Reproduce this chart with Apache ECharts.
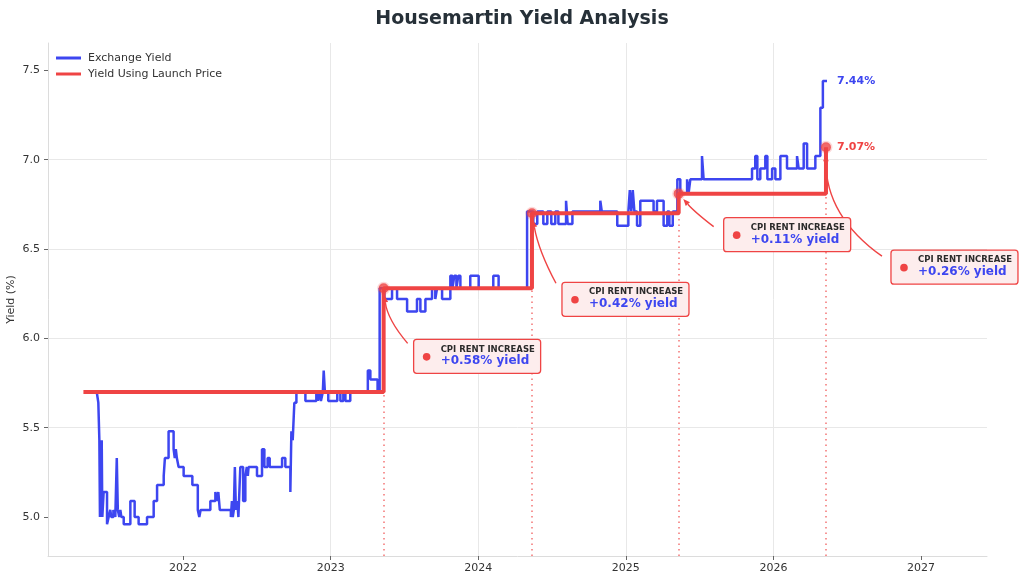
<!DOCTYPE html>
<html>
<head>
<meta charset="utf-8">
<script src="https://cdn.jsdelivr.net/npm/echarts@6/dist/echarts.min.js"></script>
<style>html,body{margin:0;padding:0;background:#fff}#c{width:1024px;height:582px}</style>
</head>
<body>
<div id="c"></div>
<script>
// ---------- DATA ----------
const seriesNames = ['Exchange Yield', 'Yield Using Launch Price'];
const exchangeDates = [
  2021.417, 2021.426, 2021.433, 2021.437, 2021.441, 2021.445, 2021.449, 2021.453, 2021.462, 2021.485,
  2021.496, 2021.507, 2021.514, 2021.528, 2021.541, 2021.551, 2021.558, 2021.568, 2021.575, 2021.582,
  2021.598, 2021.643, 2021.672, 2021.699, 2021.756, 2021.801, 2021.824, 2021.869, 2021.877, 2021.902,
  2021.936, 2021.944, 2021.951, 2021.958, 2021.970, 2022.004, 2022.063, 2022.100, 2022.110, 2022.119,
  2022.185, 2022.219, 2022.229, 2022.239, 2022.249, 2022.324, 2022.331, 2022.337, 2022.344, 2022.351,
  2022.358, 2022.368, 2022.375, 2022.388, 2022.407, 2022.422, 2022.432, 2022.439, 2022.444, 2022.501,
  2022.535, 2022.551, 2022.573, 2022.587, 2022.671, 2022.693, 2022.727, 2022.734, 2022.743, 2022.754,
  2022.768, 2022.829, 2022.903, 2022.913, 2022.923, 2022.934, 2022.947, 2022.953, 2022.961, 2022.984,
  2023.045, 2023.066, 2023.086, 2023.100, 2023.133, 2023.252, 2023.269, 2023.318, 2023.332, 2023.364,
  2023.416, 2023.450, 2023.518, 2023.585, 2023.608, 2023.642, 2023.687, 2023.709, 2023.721, 2023.755,
  2023.811, 2023.825, 2023.838, 2023.852, 2023.865, 2023.879, 2023.946, 2024.003, 2024.102, 2024.138,
  2024.331, 2024.373, 2024.400, 2024.441, 2024.468, 2024.495, 2024.522, 2024.543, 2024.595, 2024.606,
  2024.638, 2024.827, 2024.837, 2024.942, 2025.017, 2025.027, 2025.037, 2025.047, 2025.058, 2025.076,
  2025.098, 2025.188, 2025.211, 2025.256, 2025.281, 2025.295, 2025.318, 2025.349, 2025.369, 2025.415,
  2025.425, 2025.437, 2025.516, 2025.527, 2025.855, 2025.877, 2025.891, 2025.911, 2025.945, 2025.959,
  2025.991, 2026.013, 2026.047, 2026.092, 2026.160, 2026.171, 2026.205, 2026.228, 2026.284, 2026.318,
  2026.335, 2026.363
];
const exchangeYield = [
  5.69, 5.64, 5.43, 5.00, 5.38, 5.00, 5.43, 5.00, 5.14, 4.96,
  5.00, 5.04, 5.00, 5.04, 5.00, 5.33, 5.04, 5.00, 5.04, 5.00,
  4.96, 5.09, 5.00, 4.96, 5.00, 5.09, 5.18, 5.23, 5.33, 5.48,
  5.38, 5.33, 5.38, 5.33, 5.28, 5.23, 5.18, 5.04, 5.00, 5.04,
  5.09, 5.14, 5.09, 5.14, 5.04, 5.00, 5.09, 5.00, 5.04, 5.28,
  5.04, 5.09, 5.00, 5.28, 5.09, 5.23, 5.28, 5.23, 5.28, 5.23,
  5.38, 5.28, 5.33, 5.28, 5.33, 5.28, 5.14, 5.48, 5.43, 5.64,
  5.70, 5.65, 5.70, 5.65, 5.70, 5.65, 5.70, 5.82, 5.70, 5.65,
  5.70, 5.65, 5.70, 5.65, 5.70, 5.82, 5.77, 5.70, 6.28, 6.22,
  6.28, 6.22, 6.15, 6.22, 6.15, 6.22, 6.28, 6.22, 6.28, 6.22,
  6.35, 6.28, 6.35, 6.28, 6.35, 6.28, 6.35, 6.28, 6.35, 6.28,
  6.71, 6.64, 6.71, 6.64, 6.71, 6.64, 6.71, 6.64, 6.77, 6.64,
  6.71, 6.77, 6.71, 6.63, 6.71, 6.83, 6.71, 6.83, 6.71, 6.63,
  6.77, 6.71, 6.77, 6.63, 6.71, 6.63, 6.71, 6.89, 6.81, 6.89,
  6.81, 6.89, 7.02, 6.89, 6.95, 7.02, 6.89, 6.95, 7.02, 6.89,
  6.95, 6.89, 7.02, 6.95, 7.02, 6.95, 7.09, 6.95, 7.02, 7.29,
  7.44, 7.44
];
const launchDates = [2021.325, 2023.359, 2024.364, 2025.358, 2026.356];
const launchYield = [5.70, 6.28, 6.70, 6.81, 7.07];
const xTickLabels = [2022, 2023, 2024, 2025, 2026, 2027];
const yTickLabels = [5.0, 5.5, 6.0, 6.5, 7.0, 7.5];
const annotationTitle = 'CPI RENT INCREASE';

// ---------- LAYOUT / STYLE ----------
const X_MIN = 2021.085, X_MAX = 2027.447, Y_MIN = 4.782, Y_MAX = 7.653;
const BLUE = '#3d46f0', RED = '#ef4444', FONT = '"DejaVu Sans", sans-serif';
const BOX_W = 127, BOX_H = 34;
const boxLayout = [
  {dx: 30, dy: 51,  sx: -6,  sy: 4, k: 0.15},
  {dx: 30, dy: 69,  sx: -6,  sy: 1, k: 0.08},
  {dx: 45, dy: 24,  sx: -10, sy: 9, k: 0.05},
  {dx: 65, dy: 103, sx: -9,  sy: 6, k: 0.26}
];

const exData = exchangeDates.map((d, i) => [d, exchangeYield[i]]);
const lpData = launchDates.map((d, i) => [d, launchYield[i]]);
const jumps = lpData.slice(1);

const chart = echarts.init(document.getElementById('c'), null, {renderer: 'canvas'});

const axisText = {color: '#333', fontSize: 11, fontFamily: FONT};

chart.setOption({
  animation: false,
  backgroundColor: '#ffffff',
  textStyle: {fontFamily: FONT},
  title: {
    text: 'Housemartin Yield Analysis',
    left: 517, top: 5, textAlign: 'center',
    textStyle: {fontSize: 19, fontWeight: 'bold', color: '#263038', fontFamily: FONT}
  },
  legend: {
    orient: 'vertical', left: 56, top: 51, padding: 0,
    itemWidth: 25, itemHeight: 3, itemGap: 2, icon: 'rect',
    selectedMode: false,
    data: seriesNames,
    textStyle: {fontSize: 11, color: '#333', fontFamily: FONT, lineHeight: 14, padding: [0, 0, 0, 2]}
  },
  grid: {left: 48, right: 37, top: 43, bottom: 26, containLabel: false, outerBoundsMode: 'none'},
  xAxis: {
    type: 'value', min: X_MIN, max: X_MAX,
    axisLine: {show: true, lineStyle: {color: '#dcdcdc', width: 1}},
    axisTick: {show: true, length: 4, customValues: xTickLabels, lineStyle: {color: '#666'}},
    axisLabel: Object.assign({customValues: xTickLabels, margin: 7, formatter: v => String(Math.round(v))}, axisText),
    splitLine: {show: true, showMinLine: false, showMaxLine: false, lineStyle: {color: '#e8e8e8', width: 1}}
  },
  yAxis: {
    type: 'value', min: Y_MIN, max: Y_MAX,
    name: 'Yield (%)', nameLocation: 'middle', nameGap: 31, nameMoveOverlap: false,
    nameTextStyle: {fontSize: 11, color: '#333', fontFamily: FONT},
    axisLine: {show: true, lineStyle: {color: '#dcdcdc', width: 1}},
    axisTick: {show: true, length: 4, customValues: yTickLabels, lineStyle: {color: '#666'}},
    axisLabel: Object.assign({customValues: yTickLabels, margin: 8, formatter: v => v.toFixed(1)}, axisText),
    splitLine: {show: true, showMinLine: false, showMaxLine: false, lineStyle: {color: '#e8e8e8', width: 1}}
  },
  series: [
    {
      name: seriesNames[0], type: 'line', step: 'end', data: exData,
      showSymbol: false, symbol: 'none', z: 2,
      lineStyle: {color: BLUE, width: 2.5},
      itemStyle: {color: BLUE},
      endLabel: {show: true, distance: 10, formatter: p => p.value[1].toFixed(2) + '%',
        color: BLUE, fontWeight: 'bold', fontSize: 11, fontFamily: FONT}
    },
    {
      name: seriesNames[1], type: 'line', step: 'end', data: lpData,
      showSymbol: false, symbol: 'none', z: 3,
      lineStyle: {color: RED, width: 4},
      itemStyle: {color: RED},
      endLabel: {show: true, distance: 11, formatter: p => p.value[1].toFixed(2) + '%',
        color: RED, fontWeight: 'bold', fontSize: 11, fontFamily: FONT},
      markLine: {
        silent: true, symbol: 'none', z: 1,
        label: {show: false},
        lineStyle: {color: RED, width: 1.5, type: [1.5, 4], opacity: 0.75},
        data: jumps.map(p => [{coord: [p[0], Y_MIN]}, {coord: [p[0], p[1]]}])
      }
    },
    {
      name: 'jumps', type: 'scatter', data: jumps, z: 5,
      symbolSize: 10,
      itemStyle: {color: RED, borderColor: 'rgba(239,68,68,0.25)', borderWidth: 3},
      silent: true
    }
  ]
});

function buildAnnotations() {
  const g = [];
  jumps.forEach((pt, i) => {
    const P = chart.convertToPixel({xAxisIndex: 0, yAxisIndex: 0}, pt);
    const L = boxLayout[i];
    const bx = P[0] + L.dx, by = P[1] + L.dy;
    const S = [bx + L.sx, by + L.sy];
    const mx = (S[0] + P[0]) / 2, my = (S[1] + P[1]) / 2;
    const ddx = P[0] - S[0], ddy = P[1] - S[1];
    const Q = [mx + L.k * ddy, my - L.k * ddx];
    let vx = Q[0] - P[0], vy = Q[1] - P[1];
    const vl = Math.hypot(vx, vy); vx /= vl; vy /= vl;
    const T = [P[0] + 7 * vx, P[1] + 7 * vy];
    const B = [T[0] + 7 * vx, T[1] + 7 * vy];
    const nx = -vy, ny = vx;
    g.push({type: 'bezierCurve', z: 50, silent: true,
      shape: {x1: S[0], y1: S[1], x2: B[0], y2: B[1], cpx1: Q[0], cpy1: Q[1]},
      style: {stroke: RED, lineWidth: 1.4, fill: null}});
    g.push({type: 'polygon', z: 50, silent: true,
      shape: {points: [T, [B[0] + 2.8 * nx, B[1] + 2.8 * ny], [B[0] - 2.8 * nx, B[1] - 2.8 * ny]]},
      style: {fill: RED}});
    g.push({type: 'rect', z: 60, silent: true,
      shape: {x: bx, y: by, width: BOX_W, height: BOX_H, r: 3},
      style: {fill: '#fdeded', stroke: RED, lineWidth: 1.3}});
    g.push({type: 'circle', z: 61, silent: true,
      shape: {cx: bx + 13, cy: by + 17.5, r: 3.8}, style: {fill: RED}});
    const inc = (launchYield[i + 1] - launchYield[i]).toFixed(2);
    g.push({type: 'text', z: 61, silent: true, x: bx + 27, y: by + 10,
      style: {text: annotationTitle, fill: '#2b2b2b', font: 'bold 8.5px "DejaVu Sans"', align: 'left', verticalAlign: 'middle'}});
    g.push({type: 'text', z: 61, silent: true, x: bx + 27, y: by + 22,
      style: {text: '+' + inc + '% yield', fill: BLUE, font: 'bold 12px "DejaVu Sans"', align: 'left', verticalAlign: 'middle'}});
  });
  chart.setOption({graphic: g});
}
buildAnnotations();
</script>
</body>
</html>
